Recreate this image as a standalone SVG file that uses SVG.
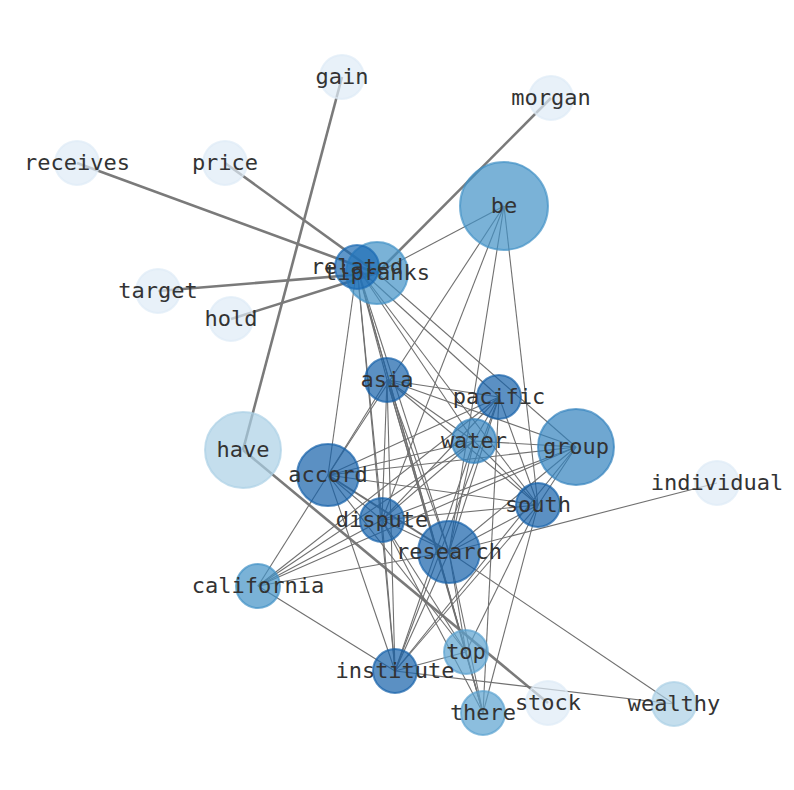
<svg xmlns="http://www.w3.org/2000/svg" width="794" height="790" viewBox="0 0 794 790">
<style>
.e{stroke:#707070;stroke-width:1.1;fill:none}
.w{stroke:#7a7a7a;stroke-width:2.6;fill:none}
.m{stroke:#707070;stroke-width:2;fill:none}
circle{stroke-width:2;fill-opacity:0.7;stroke-opacity:0.7}
.c1{fill:#deebf7;stroke:#deebf7}
.c2{fill:#abd0e6;stroke:#abd0e6}
.c3{fill:#5ba3d0;stroke:#5ba3d0}
.c4{fill:#4292c6;stroke:#4292c6}
.c5{fill:#3282be;stroke:#3282be}
.c6{fill:#1561a9;stroke:#1561a9}
.c7{fill:#1a6ab3;stroke:#1a6ab3}
text{font-family:"DejaVu Sans Mono","Liberation Mono",monospace;font-size:22px;fill:#333;text-anchor:middle}
</style>
<rect width="794" height="790" fill="#fff"/>
<g id="edges">
<line class="w" x1="342" y1="77" x2="243" y2="450"/>
<line class="w" x1="243" y1="450" x2="548" y2="703"/>
<line class="w" x1="77" y1="163" x2="377" y2="273"/>
<line class="w" x1="225" y1="163" x2="377" y2="273"/>
<line class="w" x1="158" y1="291" x2="377" y2="273"/>
<line class="w" x1="231" y1="319" x2="377" y2="273"/>
<line class="w" x1="551" y1="98" x2="377" y2="273"/>
<line class="e" x1="377" y1="273" x2="504" y2="206"/>
<line class="e" x1="357" y1="267" x2="377" y2="273"/>
<line class="e" x1="357" y1="267" x2="328" y2="475"/>
<line class="e" x1="357" y1="267" x2="387" y2="380"/>
<line class="e" x1="357" y1="267" x2="382" y2="520"/>
<line class="e" x1="357" y1="267" x2="395" y2="671"/>
<line class="e" x1="357" y1="267" x2="449" y2="552"/>
<line class="e" x1="357" y1="267" x2="466" y2="652"/>
<line class="e" x1="357" y1="267" x2="483" y2="713"/>
<line class="e" x1="357" y1="267" x2="474" y2="441"/>
<line class="e" x1="357" y1="267" x2="538" y2="505"/>
<line class="e" x1="357" y1="267" x2="499" y2="397"/>
<line class="e" x1="377" y1="273" x2="576" y2="447"/>
<line class="e" x1="504" y1="206" x2="328" y2="475"/>
<line class="e" x1="504" y1="206" x2="382" y2="520"/>
<line class="e" x1="504" y1="206" x2="449" y2="552"/>
<line class="e" x1="504" y1="206" x2="538" y2="505"/>
<line class="e" x1="387" y1="380" x2="499" y2="397"/>
<line class="e" x1="387" y1="380" x2="474" y2="441"/>
<line class="e" x1="387" y1="380" x2="576" y2="447"/>
<line class="e" x1="387" y1="380" x2="538" y2="505"/>
<line class="e" x1="387" y1="380" x2="382" y2="520"/>
<line class="e" x1="387" y1="380" x2="449" y2="552"/>
<line class="e" x1="387" y1="380" x2="466" y2="652"/>
<line class="e" x1="387" y1="380" x2="395" y2="671"/>
<line class="e" x1="387" y1="380" x2="328" y2="475"/>
<line class="e" x1="387" y1="380" x2="483" y2="713"/>
<line class="e" x1="499" y1="397" x2="474" y2="441"/>
<line class="e" x1="499" y1="397" x2="538" y2="505"/>
<line class="e" x1="499" y1="397" x2="328" y2="475"/>
<line class="e" x1="499" y1="397" x2="382" y2="520"/>
<line class="e" x1="499" y1="397" x2="395" y2="671"/>
<line class="e" x1="499" y1="397" x2="258" y2="586"/>
<line class="e" x1="499" y1="397" x2="449" y2="552"/>
<line class="e" x1="499" y1="397" x2="483" y2="713"/>
<line class="e" x1="474" y1="441" x2="538" y2="505"/>
<line class="e" x1="474" y1="441" x2="328" y2="475"/>
<line class="e" x1="474" y1="441" x2="382" y2="520"/>
<line class="e" x1="474" y1="441" x2="449" y2="552"/>
<line class="e" x1="474" y1="441" x2="395" y2="671"/>
<line class="e" x1="474" y1="441" x2="258" y2="586"/>
<line class="e" x1="474" y1="441" x2="576" y2="447"/>
<line class="e" x1="576" y1="447" x2="538" y2="505"/>
<line class="e" x1="576" y1="447" x2="328" y2="475"/>
<line class="e" x1="576" y1="447" x2="382" y2="520"/>
<line class="e" x1="576" y1="447" x2="449" y2="552"/>
<line class="e" x1="576" y1="447" x2="395" y2="671"/>
<line class="e" x1="576" y1="447" x2="258" y2="586"/>
<line class="e" x1="328" y1="475" x2="382" y2="520"/>
<line class="e" x1="328" y1="475" x2="538" y2="505"/>
<line class="m" x1="328" y1="475" x2="449" y2="552"/>
<line class="e" x1="328" y1="475" x2="258" y2="586"/>
<line class="e" x1="328" y1="475" x2="395" y2="671"/>
<line class="e" x1="328" y1="475" x2="466" y2="652"/>
<line class="e" x1="538" y1="505" x2="382" y2="520"/>
<line class="e" x1="538" y1="505" x2="449" y2="552"/>
<line class="e" x1="538" y1="505" x2="395" y2="671"/>
<line class="e" x1="538" y1="505" x2="466" y2="652"/>
<line class="e" x1="538" y1="505" x2="483" y2="713"/>
<line class="e" x1="717" y1="483" x2="449" y2="552"/>
<line class="e" x1="382" y1="520" x2="449" y2="552"/>
<line class="e" x1="382" y1="520" x2="395" y2="671"/>
<line class="e" x1="382" y1="520" x2="466" y2="652"/>
<line class="e" x1="382" y1="520" x2="258" y2="586"/>
<line class="e" x1="382" y1="520" x2="483" y2="713"/>
<line class="e" x1="449" y1="552" x2="395" y2="671"/>
<line class="e" x1="449" y1="552" x2="466" y2="652"/>
<line class="e" x1="449" y1="552" x2="483" y2="713"/>
<line class="e" x1="449" y1="552" x2="258" y2="586"/>
<line class="e" x1="449" y1="552" x2="674" y2="704"/>
<line class="e" x1="395" y1="671" x2="466" y2="652"/>
<line class="e" x1="395" y1="671" x2="674" y2="704"/>
<line class="e" x1="395" y1="671" x2="258" y2="586"/>
<line class="e" x1="466" y1="652" x2="483" y2="713"/>
</g>
<g id="nodes">
<g id="gain"><circle class="c1" cx="342" cy="77" r="22"/></g>
<g id="morgan"><circle class="c1" cx="551" cy="98" r="22"/></g>
<g id="receives"><circle class="c1" cx="77" cy="163" r="22"/></g>
<g id="price"><circle class="c1" cx="225" cy="163" r="22"/></g>
<g id="be"><circle class="c4" cx="504" cy="206" r="44"/></g>
<g id="tipranks"><circle class="c4" cx="377" cy="273" r="31"/></g>
<g id="related"><circle class="c7" cx="357" cy="267" r="22"/></g>
<g id="target"><circle class="c1" cx="158" cy="291" r="22"/></g>
<g id="hold"><circle class="c1" cx="231" cy="319" r="22"/></g>
<g id="asia"><circle class="c6" cx="387" cy="380" r="22"/></g>
<g id="pacific"><circle class="c6" cx="499" cy="397" r="22"/></g>
<g id="water"><circle class="c5" cx="474" cy="441" r="22"/></g>
<g id="group"><circle class="c5" cx="576" cy="447" r="38"/></g>
<g id="have"><circle class="c2" cx="243" cy="450" r="38"/></g>
<g id="individual"><circle class="c1" cx="717" cy="483" r="22"/></g>
<g id="accord"><circle class="c6" cx="328" cy="475" r="31"/></g>
<g id="south"><circle class="c6" cx="538" cy="505" r="22"/></g>
<g id="dispute"><circle class="c6" cx="382" cy="520" r="22"/></g>
<g id="research"><circle class="c6" cx="449" cy="552" r="31"/></g>
<g id="california"><circle class="c4" cx="258" cy="586" r="22"/></g>
<g id="top"><circle class="c3" cx="466" cy="652" r="22"/></g>
<g id="institute"><circle class="c6" cx="395" cy="671" r="22"/></g>
<g id="there"><circle class="c3" cx="483" cy="713" r="22"/></g>
<g id="stock"><circle class="c1" cx="548" cy="703" r="22"/></g>
<g id="wealthy"><circle class="c2" cx="674" cy="704" r="22"/></g>
</g>
<g id="labels">
<text x="342" y="84">gain</text>
<text x="551" y="105">morgan</text>
<text x="77" y="170">receives</text>
<text x="225" y="170">price</text>
<text x="504" y="213">be</text>
<text x="377" y="280">tipranks</text>
<text x="357" y="274">related</text>
<text x="158" y="298">target</text>
<text x="231" y="326">hold</text>
<text x="387" y="387">asia</text>
<text x="499" y="404">pacific</text>
<text x="474" y="448">water</text>
<text x="576" y="454">group</text>
<text x="243" y="457">have</text>
<text x="717" y="490">individual</text>
<text x="328" y="482">accord</text>
<text x="538" y="512">south</text>
<text x="382" y="527">dispute</text>
<text x="449" y="559">research</text>
<text x="258" y="593">california</text>
<text x="466" y="659">top</text>
<text x="395" y="678">institute</text>
<text x="483" y="720">there</text>
<text x="548" y="710">stock</text>
<text x="674" y="711">wealthy</text>
</g>
</svg>
